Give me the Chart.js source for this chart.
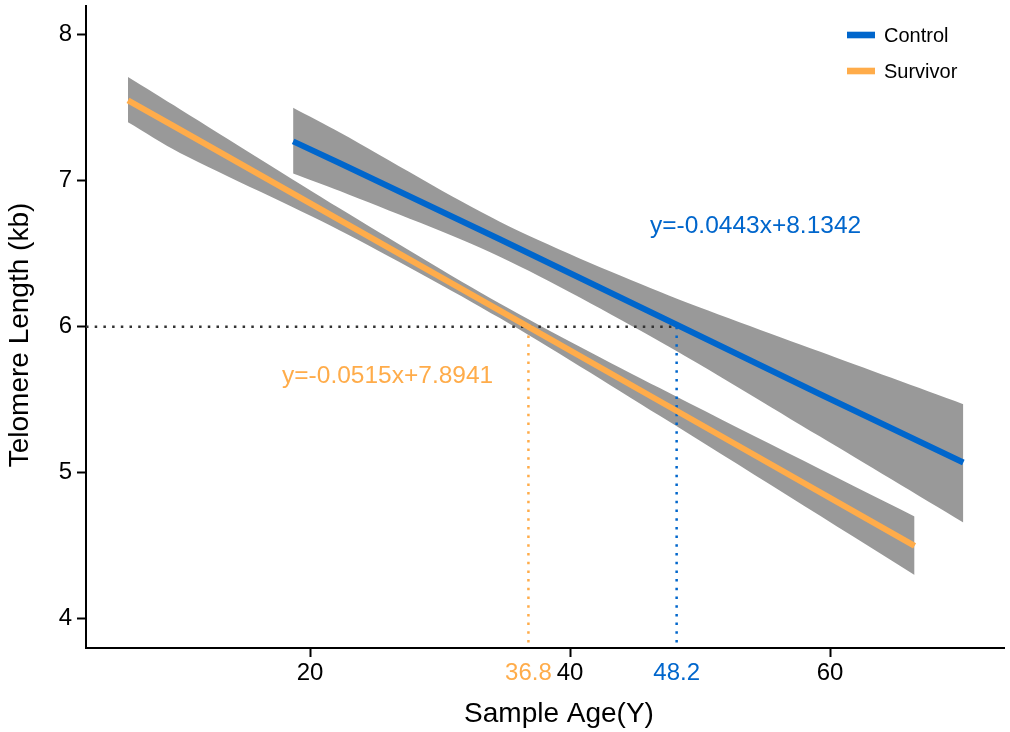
<!DOCTYPE html>
<html>
<head>
<meta charset="utf-8">
<script src="https://cdn.jsdelivr.net/npm/chart.js@4.4.1/dist/chart.umd.min.js"></script>
<style>
  html, body { margin: 0; padding: 0; background: #fff; }
</style>
</head>
<body>
<canvas id="myChart" width="1010" height="732"></canvas>
<script>
// regression lines + 95% bands
var controlAge   = [18.7, 22.3, 34.6, 46.9, 59.2, 70.25]
var controlFit   = [7.27, 7.12, 6.60, 6.07, 5.54, 5.07]
var controlUpper = [7.50, 7.33, 6.72, 6.24, 5.83, 5.47]
var controlLower = [7.05, 6.93, 6.48, 5.90, 5.25, 4.66]

var survivorAge   = [6.0, 10.0, 22.3, 34.6, 46.9, 66.5]
var survivorFit   = [7.55, 7.35, 6.73, 6.11, 5.49, 4.50]
var survivorUpper = [7.71, 7.49, 6.81, 6.16, 5.58, 4.70]
var survivorLower = [7.40, 7.19, 6.66, 6.06, 5.39, 4.30]

var cutoffLength = 6
var survivorCross = 36.8
var controlCross = 48.2

var xTicks = [20, 36.8, 40, 48.2, 60]
var yTicks = [4, 5, 6, 7, 8]
var xRange = [2.77, 73.38]
var yRange = [3.8, 8.197]

var legendLabels = ['Control', 'Survivor']
var equations = ['y=-0.0443x+8.1342', 'y=-0.0515x+7.8941']

var BLUE = '#0066CC'
var ORANGE = '#FFAC4A'
var BAND = '#999999'
var FONT = '"Liberation Sans", Arial, Helvetica, sans-serif'

function pts(xs, ys) {
    return xs.map(function (x, i) { return { x: x, y: ys[i] } })
}

var extraText = {
    id: 'extraText',
    afterDraw: function (chart) {
        var c = chart.ctx
        var xs = chart.scales.x, ys = chart.scales.y
        c.save()
        // equations
        c.font = '24.5px ' + FONT
        c.textAlign = 'left'
        c.textBaseline = 'middle'
        c.fillStyle = BLUE
        c.fillText(equations[0], xs.getPixelForValue(46.15), ys.getPixelForValue(6.69))
        c.fillStyle = ORANGE
        c.fillText(equations[1], xs.getPixelForValue(17.85), ys.getPixelForValue(5.66))

        // legend
        var colors = [BLUE, ORANGE]
        c.font = '20px ' + FONT
        for (var i = 0; i < legendLabels.length; i++) {
            var ly = 35 + i * 36
            c.fillStyle = colors[i]
            c.fillRect(847, ly - 3.3, 28, 6.6)
            c.fillStyle = '#000'
            c.fillText(legendLabels[i], 884, ly + 1)
        }

        // axis titles
        c.font = '28px ' + FONT
        c.fillStyle = '#000'
        c.textAlign = 'center'
        c.textBaseline = 'alphabetic'
        c.fillText('Sample Age(Y)', 559, 722)
        c.translate(28, 335)
        c.rotate(-Math.PI / 2)
        c.fillText('Telomere Length (kb)', 0, 0)
        c.restore()
    }
}

var ctx = document.getElementById('myChart')
var chartData = {
    type: 'line',
    data: {
        datasets: [{
            label: 'Control',
            data: pts(controlAge, controlFit),
            borderColor: BLUE,
            borderWidth: 6,
            pointRadius: 0,
            fill: false,
            order: 0
        },
        {
            label: 'Survivor',
            data: pts(survivorAge, survivorFit),
            borderColor: ORANGE,
            borderWidth: 6,
            pointRadius: 0,
            fill: false,
            order: 0
        },
        {
            label: 'cutoff',
            data: [{ x: xRange[0], y: cutoffLength }, { x: controlCross, y: cutoffLength }],
            borderColor: '#333333',
            borderWidth: 2.5,
            borderDash: [2.5, 6.2],
            pointRadius: 0,
            fill: false,
            order: 1
        },
        {
            label: 'survivorCross',
            data: [{ x: survivorCross, y: cutoffLength }, { x: survivorCross, y: yRange[0] }],
            borderColor: ORANGE,
            borderWidth: 2.5,
            borderDash: [2.5, 6.2],
            pointRadius: 0,
            fill: false,
            order: 1
        },
        {
            label: 'controlCross',
            data: [{ x: controlCross, y: cutoffLength }, { x: controlCross, y: yRange[0] }],
            borderColor: BLUE,
            borderWidth: 2.5,
            borderDash: [2.5, 6.2],
            pointRadius: 0,
            fill: false,
            order: 1
        },
        {
            label: 'controlUpper',
            data: pts(controlAge, controlUpper),
            borderWidth: 0,
            borderColor: BAND,
            backgroundColor: BAND,
            pointRadius: 0,
            tension: 0.3,
            fill: '+1',
            order: 2
        },
        {
            label: 'controlLower',
            data: pts(controlAge, controlLower),
            borderWidth: 0,
            borderColor: BAND,
            pointRadius: 0,
            tension: 0.3,
            fill: false,
            order: 2
        },
        {
            label: 'survivorUpper',
            data: pts(survivorAge, survivorUpper),
            borderWidth: 0,
            borderColor: BAND,
            backgroundColor: BAND,
            pointRadius: 0,
            tension: 0.3,
            fill: '+1',
            order: 2
        },
        {
            label: 'survivorLower',
            data: pts(survivorAge, survivorLower),
            borderWidth: 0,
            borderColor: BAND,
            pointRadius: 0,
            tension: 0.3,
            fill: false,
            order: 2
        }]
    },
    options: {
        responsive: false,
        animation: false,
        events: [],
        layout: { padding: { top: 6, right: 6, left: 0, bottom: 0 } },
        plugins: {
            legend: { display: false },
            tooltip: { enabled: false }
        },
        scales: {
            x: {
                type: 'linear',
                min: xRange[0],
                max: xRange[1],
                border: { color: '#000', width: 2 },
                grid: {
                    drawOnChartArea: false,
                    tickLength: 9,
                    tickWidth: 2,
                    tickColor: function (c) {
                        var v = c.tick && c.tick.value
                        return (v === survivorCross || v === controlCross) ? 'rgba(0,0,0,0)' : '#000'
                    }
                },
                ticks: {
                    autoSkip: false,
                    maxRotation: 0,
                    padding: 2,
                    font: { family: FONT, size: 24 },
                    color: function (c) {
                        var v = c.tick && c.tick.value
                        if (v === survivorCross) return ORANGE
                        if (v === controlCross) return BLUE
                        return '#000'
                    }
                },
                afterBuildTicks: function (axis) {
                    axis.ticks = xTicks.map(function (v) { return { value: v } })
                },
                afterFit: function (s) {
                    s.height = 84
                    s.paddingLeft = 0
                    s.paddingRight = 0
                }
            },
            y: {
                type: 'linear',
                min: yRange[0],
                max: yRange[1],
                border: { color: '#000', width: 2 },
                grid: {
                    drawOnChartArea: false,
                    tickLength: 9,
                    tickWidth: 2,
                    tickColor: '#000'
                },
                ticks: {
                    padding: 5,
                    font: { family: FONT, size: 24 },
                    color: '#000'
                },
                afterBuildTicks: function (axis) {
                    axis.ticks = yTicks.map(function (v) { return { value: v } })
                },
                afterFit: function (s) {
                    s.width = 86
                    s.paddingTop = 0
                    s.paddingBottom = 0
                }
            }
        }
    },
    plugins: [extraText]
}
var myChart = new Chart(ctx, chartData)
</script>
</body>
</html>
